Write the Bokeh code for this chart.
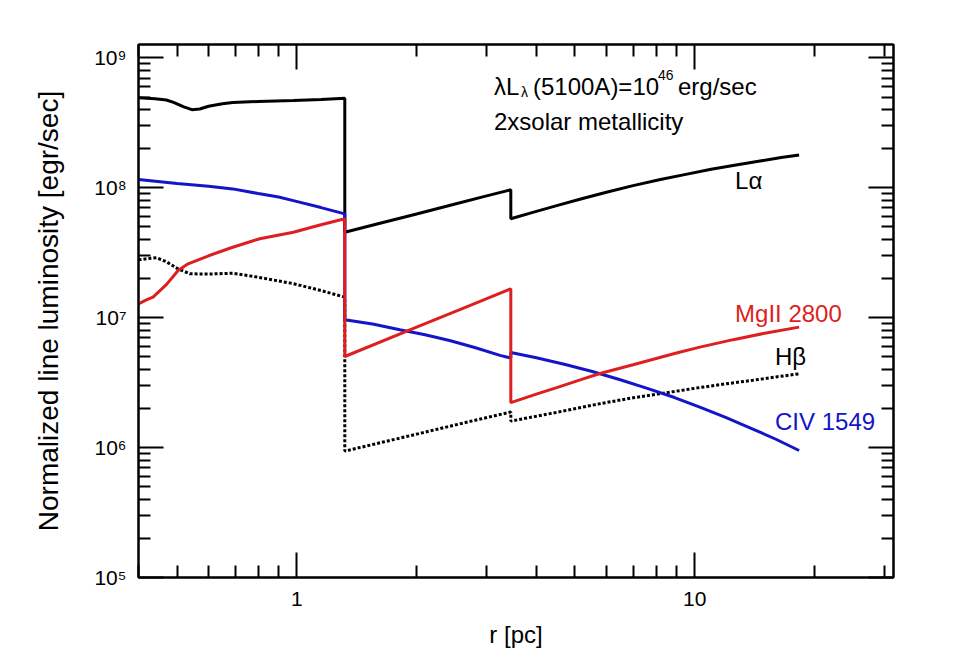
from bokeh.plotting import figure
from bokeh.models import Range1d, FixedTicker, LogAxis, Label, CustomJSTickFormatter
from bokeh.embed import file_html
from bokeh.resources import INLINE

# ---------------- data ----------------
# L-alpha (black solid)
r_lya = [0.40, 0.44, 0.47, 0.49, 0.52, 0.545, 0.57, 0.60, 0.65, 0.69, 0.80, 0.98, 1.15, 1.32,
         1.32, 1.60, 2.00, 2.50, 3.00, 3.45,
         3.45, 3.90, 4.50, 5.20, 6.00, 7.00, 8.20, 9.50, 11.0, 12.7, 14.6, 16.5, 18.3]
L_lya = [4.95e8, 4.85e8, 4.75e8, 4.55e8, 4.2e8, 4.0e8, 4.05e8, 4.25e8, 4.45e8, 4.55e8, 4.62e8, 4.7e8, 4.8e8, 4.9e8,
         4.55e7, 5.29e7, 6.29e7, 7.51e7, 8.67e7, 9.66e7,
         5.78e7, 6.45e7, 7.3e7, 8.25e7, 9.25e7, 1.04e8, 1.16e8, 1.27e8, 1.39e8, 1.5e8, 1.61e8, 1.71e8, 1.79e8]

# H-beta (black dotted)
r_hb = [0.40, 0.42, 0.444, 0.47, 0.50, 0.538, 0.60, 0.69, 0.80, 0.98, 1.15, 1.32,
        1.32, 2.00, 2.70, 3.45,
        3.45, 4.50, 5.78, 7.00, 8.50, 10.3, 12.0, 14.0, 16.0, 18.3]
L_hb = [2.79e7, 2.85e7, 2.9e7, 2.7e7, 2.4e7, 2.18e7, 2.17e7, 2.2e7, 2.05e7, 1.83e7, 1.62e7, 1.44e7,
        9.4e5, 1.27e6, 1.58e6, 1.88e6,
        1.6e6, 1.87e6, 2.18e6, 2.42e6, 2.65e6, 2.9e6, 3.1e6, 3.3e6, 3.5e6, 3.7e6]

# CIV 1549 (blue)
r_civ = [0.40, 0.50, 0.60, 0.69, 0.80, 0.90, 0.98, 1.15, 1.32,
         1.32, 1.55, 1.815, 2.10, 2.42, 2.80, 3.24, 3.45,
         3.45, 4.00, 4.70, 5.50, 6.50, 7.60, 8.90, 10.3, 12.0, 14.0, 16.0, 18.3]
L_civ = [1.16e8, 1.08e8, 1.03e8, 9.82e7, 9.04e7, 8.5e7, 7.98e7, 7.05e7, 6.31e7,
         9.66e6, 8.95e6, 8.09e6, 7.4e6, 6.68e6, 5.9e6, 5.13e6, 4.89e6,
         5.4e6, 4.92e6, 4.39e6, 3.87e6, 3.33e6, 2.86e6, 2.43e6, 2.05e6, 1.70e6, 1.39e6, 1.16e6, 9.5e5]

# MgII 2800 (red)
r_mg = [0.40, 0.42, 0.435, 0.47, 0.503, 0.533, 0.60, 0.69, 0.807, 0.98, 1.15, 1.32,
        1.32, 2.00, 2.70, 3.45,
        3.45, 4.00, 4.50, 5.20, 5.78, 7.00, 8.00, 9.00, 10.3, 12.5, 15.0, 18.3]
L_mg = [1.28e7, 1.38e7, 1.44e7, 1.8e7, 2.31e7, 2.6e7, 3.0e7, 3.49e7, 4.06e7, 4.55e7, 5.2e7, 5.78e7,
        5.03e6, 8.46e6, 1.23e7, 1.67e7,
        2.22e6, 2.58e6, 2.9e6, 3.35e6, 3.72e6, 4.35e6, 4.86e6, 5.35e6, 5.94e6, 6.78e6, 7.6e6, 8.47e6]

# ticks
x_major = [1, 10]
x_major_labels = ["1", "10"]
x_minor = [0.4, 0.5, 0.6, 0.7, 0.8, 0.9, 2, 3, 4, 5, 6, 7, 8, 9, 20, 30]
y_major = [1e5, 1e6, 1e7, 1e8, 1e9]
y_major_labels = ["10\u2075", "10\u2076", "10\u2077", "10\u2078", "10\u2079"]
y_minor = [m * 10.0 ** e for e in range(5, 9) for m in range(2, 10)]

FONT = "Liberation Sans"
RED = "#dd1f1f"
BLUE = "#1414c8"

p = figure(width=966, height=656, x_axis_type="log", y_axis_type="log",
           x_range=Range1d(0.4, 31.6), y_range=Range1d(1e5, 1.27e9),
           output_backend="svg", toolbar_location=None,
           min_border_left=138, min_border_right=73, min_border_top=44, min_border_bottom=79)
p.grid.visible = False
p.background_fill_color = "white"
p.border_fill_color = "white"
p.outline_line_color = "black"
p.outline_line_width = 2


def style_axis(ax, major, minor):
    ax.ticker = FixedTicker(ticks=major, minor_ticks=minor)
    ax.major_tick_in = 25
    ax.major_tick_out = 0
    ax.minor_tick_in = 12
    ax.minor_tick_out = 0
    ax.axis_line_width = 2
    ax.axis_line_color = "black"
    ax.major_tick_line_width = 2
    ax.minor_tick_line_width = 2
    ax.major_tick_line_color = "black"
    ax.minor_tick_line_color = "black"
    ax.major_label_text_font = FONT
    ax.major_label_text_font_size = "21px"
    ax.major_label_text_color = "black"


xa = p.xaxis[0]
style_axis(xa, x_major, x_minor)
xa.major_label_overrides = dict(zip(x_major, x_major_labels))
xa.major_label_standoff = 14
xa.axis_label = "r [pc]"
xa.axis_label_text_font = FONT
xa.axis_label_text_font_size = "24px"
xa.axis_label_text_font_style = "normal"
xa.axis_label_text_color = "black"
xa.axis_label_standoff = 12

ya = p.yaxis[0]
style_axis(ya, y_major, y_minor)
ya.major_label_overrides = dict(zip(y_major, y_major_labels))
ya.major_label_standoff = 12
ya.axis_label = "Normalized line luminosity [egr/sec]"
ya.axis_label_text_font = FONT
ya.axis_label_text_font_size = "28px"
ya.axis_label_text_font_style = "normal"
ya.axis_label_text_color = "black"
ya.axis_label_standoff = 27

top = LogAxis(formatter=CustomJSTickFormatter(code="return ''"))
style_axis(top, x_major, x_minor)
p.add_layout(top, "above")
right = LogAxis(formatter=CustomJSTickFormatter(code="return ''"))
style_axis(right, y_major, y_minor)
p.add_layout(right, "right")

# curves
p.line(r_hb, L_hb, line_color="black", line_width=3, line_dash="3 2")
p.line(r_lya, L_lya, line_color="black", line_width=3)
p.line(r_civ, L_civ, line_color=BLUE, line_width=3)
p.line(r_mg, L_mg, line_color=RED, line_width=3)

LIFT = 9


def lab(x, y, text, size="24px", color="black", dx=0, dy=0):
    p.add_layout(Label(x=x, y=y, text=text, x_offset=dx, y_offset=dy + LIFT,
                       text_font=FONT, text_font_size=size, text_color=color,
                       text_baseline="alphabetic", text_align="left"))


# annotation: lambda L_lambda (5100A)=10^46 erg/sec
ax0, ay0 = 3.13, 5.13e8
lab(ax0, ay0, "\u03bbL")
lab(ax0, ay0, "\u03bb", size="14px", dx=27, dy=-5)
lab(ax0, ay0, "(5100A)=10", dx=39)
lab(ax0, ay0, "46", size="14px", dx=164, dy=12)
lab(ax0, ay0, "erg/sec", dx=184)
lab(ax0, 2.76e8, "2xsolar metallicity")

# curve labels
lab(12.63, 9.66e7, "L\u03b1")
lab(12.63, 9.25e6, "MgII 2800", color=RED)
lab(15.92, 4.3e6, "H\u03b2")
lab(15.92, 1.36e6, "CIV 1549", color=BLUE)

open("out.html", "w").write(file_html(p, INLINE))
